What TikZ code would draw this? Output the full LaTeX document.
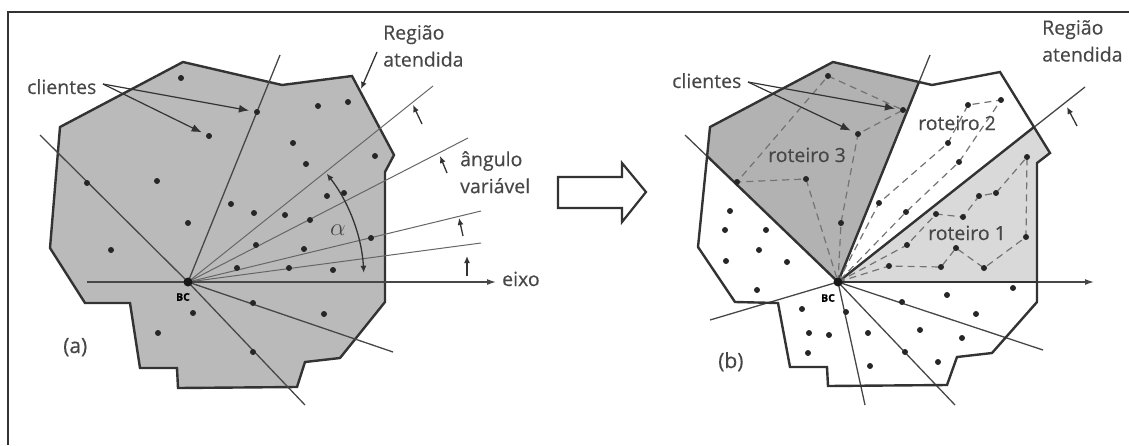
\documentclass[tikz,border=0pt]{standalone}
\usepackage{fontspec}
\newfontfamily\rotulofont[FakeBold=0.4]{Open Sans}
\usetikzlibrary{arrows.meta}

\tikzset{
	regiao/.style={draw=black!80, line width=2.4pt, line join=miter},
	divisa/.style={draw=black!72, line width=1.3pt},
	leque/.style={draw=black!60, line width=1pt},
	rota/.style={draw=black!55, line width=1.2pt, dash pattern=on 7pt off 5pt},
	cliente/.style={circle, fill=black!85, inner sep=0pt, minimum size=6pt},
	deposito/.style={circle, fill=black!90, inner sep=0pt, minimum size=9pt},
	rotulo/.style={font=\rotulofont\fontsize{19.5}{27}\selectfont, text=black!72, inner sep=0pt, anchor=base west},
	sigla/.style={font=\rotulofont\bfseries\fontsize{10.5}{11}\selectfont, inner sep=0pt},
	seta/.style={draw=black!80, line width=1.2pt, -{Latex[length=10pt,width=8pt]}, shorten >=5pt},
	setinha/.style={draw=black!80, line width=1.3pt, -{Latex[length=7pt,width=6pt]}},
}

\begin{document}
\begin{tikzpicture}[x=1pt, y=-1pt]
	\useasboundingbox (0,0) rectangle (1129,445);
	\draw[line width=1.5pt, black!80] (1129,12) -- (8,12) -- (8,445);

	\coordinate (bcA) at (188,282);
	\filldraw[regiao, fill=black!27] (183,62) -- (282,85) -- (352,76) -- (394,155) -- (385,172) -- (385,302) -- (340,358) -- (305,362) -- (297,387) -- (178,388) -- (177,368) -- (140,368) -- (130,303) -- (85,303) -- (50,248) -- (60,127) -- cycle;
	\foreach \x/\y [count=\i] in {40/135, 280/55, 393/352, 305/405} {
		\coordinate (fimA\i) at (\x,\y);
		\draw[divisa] (bcA) -- (fimA\i);
	}
	\foreach \x/\y [count=\i] in {433/86, 468/138, 481/211, 481/243} {
		\coordinate (raioA\i) at (\x,\y);
		\draw[leque] (bcA) -- (raioA\i);
	}
	\coordinate (eixoA0) at (87,282);
	\coordinate (eixoA1) at (496,282);
	\draw[divisa, -{Latex[length=9pt,width=6pt]}] (eixoA0) -- (eixoA1);
	\foreach \x/\y [count=\i] in {181/78, 257/112, 209/136, 87/183, 157/181, 188/223, 318/106, 348/102, 293/143, 306/164, 375/156, 327/196, 344/193, 231/204, 254/213, 285/215, 310/220, 256/245, 304/249, 371/238, 237/268, 289/268, 333/270, 111/250, 253/303, 193/313, 158/333, 324/314, 253/352} {
		\node[cliente] (a\i) at (\x,\y) {};
	}
	\node[deposito] (depA) at (bcA) {};
	\node[sigla] (bcLblA) at (183,297) {BC};

	\draw[setinha, {Latex[length=7pt,width=6pt]}-{Latex[length=7pt,width=6pt]}] ([shift={(-3:176)}]bcA) arc[start angle=-3, end angle=-38, radius=176];
	\node[text=black!72, inner sep=0pt] (alfa) at (338,230) {\fontsize{25}{25}\selectfont$\alpha$};
	\foreach \tx/\ty/\qx/\qy [count=\i] in {422/124/413/105, 447/173/440/156, 463/236/459/218, 467/276/467/256} {
		\coordinate (caudaA\i) at (\tx,\ty);
		\coordinate (pontaA\i) at (\qx,\qy);
		\draw[setinha] (caudaA\i) -- (pontaA\i);
	}
	\node[rotulo] (cliLblA) at (27,94) {clientes};
	\coordinate (cliA) at (103,84);
	\draw[seta] (cliA) -- (a2);
	\draw[seta] (cliA) -- (a3);
	\node[rotulo, align=left, anchor=north west] (regLblA) at (383,25) {Região\\atendida};
	\coordinate (regA0) at (377,52);
	\coordinate (regA1) at (361,89);
	\draw[setinha] (regA0) -- (regA1);
	\node[rotulo, align=left, anchor=north west] (angLbl) at (460,151) {ângulo\\variável};
	\node[rotulo] (eixoLbl) at (502,286) {eixo};
	\node[rotulo, font=\rotulofont\fontsize{21}{24}\selectfont] (lblA) at (63,353) {(a)};

	\draw[regiao, line width=2.2pt] (558,177) -- (622,177) -- (622,163) -- (646,192) -- (622,222) -- (622,208) -- (558,208) -- cycle;

	\coordinate (bcB) at (838,282);
	\coordinate (limB1) at (707,156);
	\coordinate (limB2) at (919,82);
	\coordinate (limB3) at (1034,127);
	\coordinate (limB4) at (1037,282);
	\fill[black!30] (bcB) -- (limB1) -- (710,127) -- (833,62) -- (limB2) -- cycle;
	\fill[black!15] (bcB) -- (limB3) -- (1050,153) -- (1037,163) -- (limB4) -- cycle;
	\foreach \x/\y [count=\i] in {685/135, 930/55, 1085/87, 710/320, 865/405, 955/405, 1043/350} {
		\coordinate (fimB\i) at (\x,\y);
		\draw[divisa] (bcB) -- (fimB\i);
	}
	\coordinate (eixoB1) at (1094,282);
	\draw[divisa, -{Latex[length=9pt,width=6pt]}] (bcB) -- (eixoB1);
	\draw[regiao] (833,62) -- (932,85) -- (1000,72) -- (1050,153) -- (1037,163) -- (1037,302) -- (992,353) -- (957,357) -- (947,385) -- (828,386) -- (827,367) -- (790,367) -- (778,303) -- (735,302) -- (698,247) -- (710,127) -- cycle;
	\foreach \i in {1,...,4} {
		\draw[regiao] (bcB) -- (limB\i);
	}

	\foreach \x/\y [count=\i] in {841/223, 858/134, 903/110, 828/76, 737/182, 806/179} {
		\coordinate (rtC\i) at (\x,\y);
	}
	\foreach \x/\y [count=\i] in {879/203, 948/143, 968/105, 1001/100, 959/162, 906/212} {
		\coordinate (rtB\i) at (\x,\y);
	}
	\foreach \x/\y [count=\i] in {889/266, 941/267, 956/248, 984/268, 1026/237, 1027/157, 996/193, 979/196, 963/217, 936/214, 907/245} {
		\coordinate (rtA\i) at (\x,\y);
	}
	\draw[rota] (bcB) -- (rtC1) -- (rtC2) -- (rtC3) -- (rtC4) -- (rtC5) -- (rtC6) -- (bcB);
	\draw[rota] (bcB) -- (rtB1) -- (rtB2) -- (rtB3) -- (rtB4) -- (rtB5) -- (rtB6) -- (bcB);
	\draw[rota] (bcB) -- (rtA1) -- (rtA2) -- (rtA3) -- (rtA4) -- (rtA5) -- (rtA6) -- (rtA7) -- (rtA8) -- (rtA9) -- (rtA10) -- (rtA11) -- (bcB);
	\foreach \i in {1,...,6} {
		\node[cliente] (cC\i) at (rtC\i) {};
		\node[cliente] (cB\i) at (rtB\i) {};
	}
	\foreach \i in {1,...,11} {
		\node[cliente] (cA\i) at (rtA\i) {};
	}
	\foreach \x/\y [count=\i] in {730/211, 725/230, 766/230, 759/250, 726/261, 787/262, 757/290, 802/309, 846/312, 809/333, 829/335, 868/333, 808/353, 870/366, 902/302, 947/295, 1013/288, 976/314, 920/330, 962/338, 905/352, 938/362} {
		\node[cliente] (b\i) at (\x,\y) {};
	}
	\node[deposito] (depB) at (bcB) {};
	\node[sigla] (bcLblB) at (828,298) {BC};

	\node[rotulo] (cliLblB) at (672,88) {clientes};
	\coordinate (cliB) at (748,82);
	\draw[seta] (cliB) -- (cC3);
	\draw[seta] (cliB) -- (cC2);
	\node[rotulo, align=left, anchor=north west] (regLblB) at (1042,20) {Região\\atendida};
	\coordinate (caudaB) at (1077,126);
	\coordinate (pontaB) at (1067,107);
	\draw[setinha] (caudaB) -- (pontaB);
	\node[rotulo] (rot3) at (768,162) {roteiro 3};
	\node[rotulo] (rot2) at (918,130) {roteiro 2};
	\node[rotulo] (rot1) at (928,240) {roteiro 1};
	\node[rotulo, font=\rotulofont\fontsize{21}{24}\selectfont] (lblB) at (718,368) {(b)};
\end{tikzpicture}
\end{document}
